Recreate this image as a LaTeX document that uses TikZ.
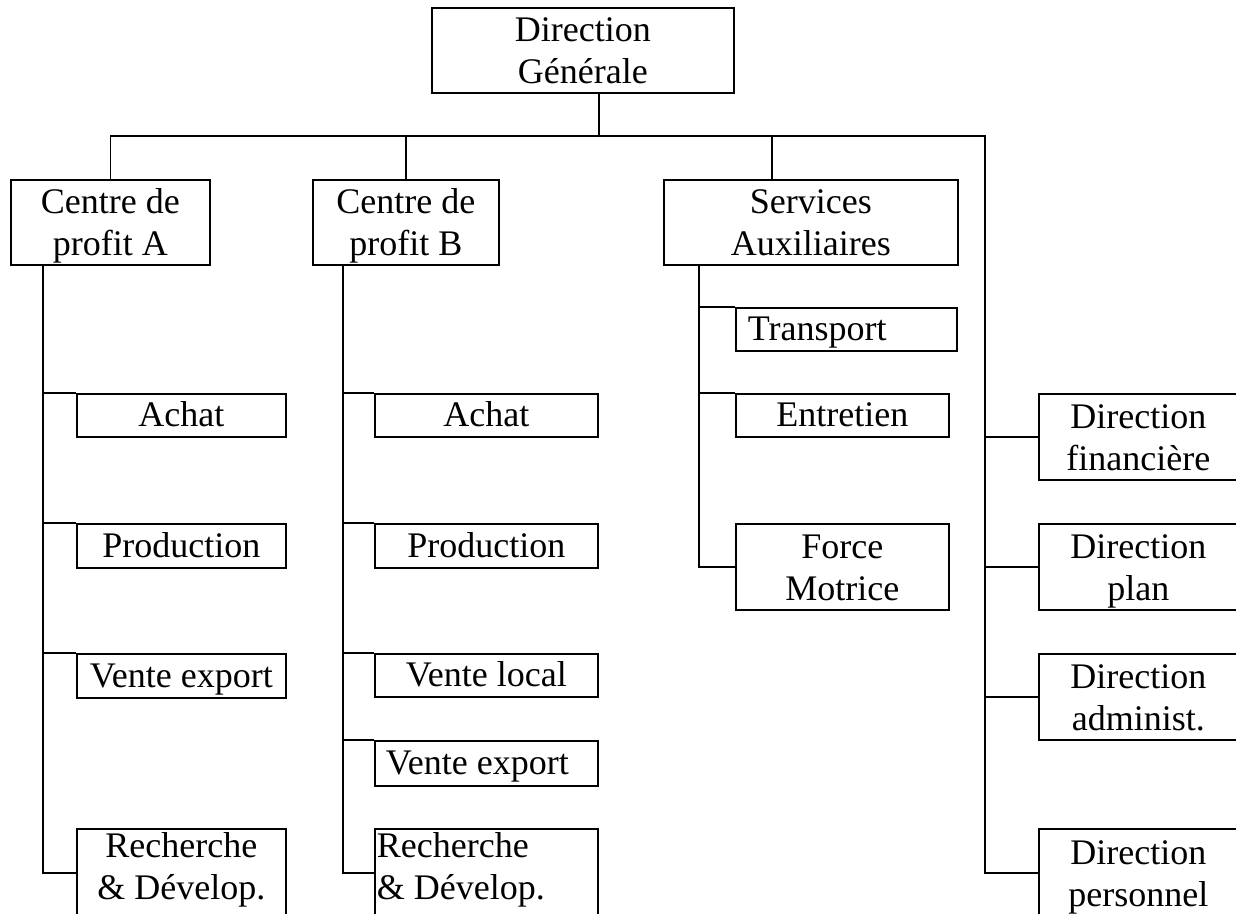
\documentclass[tikz,border=0pt]{standalone}
\usepackage{fontspec}
\setmainfont{Liberation Serif}
\begin{document}
\begin{tikzpicture}[x=0.5pt,y=-0.5pt,line width=0.9pt,line join=miter,
  box/.style={draw,inner sep=0pt,anchor=north west,align=flush center,
    font=\fontsize{18}{21}\selectfont},
  leftbox/.style={align=flush left,inner xsep=#1},
  one/.style={text height=16.5pt,text depth=5pt},
  two/.style={text height=17pt,text depth=25.5pt},
  tall/.style={text height=14.5pt,text depth=29.5pt}]
\useasboundingbox (0,0) rectangle (1236,914);

% top management
\node[box,two,text width=151pt,minimum height=42.5pt] (dg) at (431,7) {Direction\\Générale};

% second level
\node[box,two,text width=99.5pt,minimum height=42.5pt] (cpA) at (10,179) {Centre de\\profit A};
\node[box,two,text width=93pt,minimum height=42.5pt] (cpB) at (312,179) {Centre de\\profit B};
\node[box,two,text width=147pt,minimum height=42.5pt] (sa) at (663,179) {Services\\Auxiliaires};

% profit centre A
\node[box,one,text width=104.5pt,minimum height=21.5pt] (achA) at (76,393) {Achat};
\node[box,one,text width=104.5pt,minimum height=22pt] (prodA) at (76,523) {Production};
\node[box,one,text width=104.5pt,minimum height=22pt] (veA) at (76,653) {Vente export};
\node[box,tall,text width=104.5pt,minimum height=44pt] (rdA) at (76,828) {Recherche\\\& Dévelop.};

% profit centre B
\node[box,one,text width=111.5pt,minimum height=21.5pt] (achB) at (374,393) {Achat};
\node[box,one,text width=111.5pt,minimum height=22pt] (prodB) at (374,523) {Production};
\node[box,one,text width=111.5pt,minimum height=21.5pt] (vlB) at (374,653) {Vente local};
\node[box,one,leftbox=5.5pt,text width=100.5pt,minimum height=22.5pt] (veB) at (374,740) {Vente export};
\node[box,tall,leftbox=1pt,text width=109.5pt,minimum height=44pt] (rdB) at (374,828) {Recherche\\\& Dévelop.};

% auxiliary services
\node[box,one,leftbox=6pt,text width=98.5pt,minimum height=21.5pt] (tr) at (735,307) {Transport};
\node[box,one,text width=106.5pt,minimum height=21.5pt] (en) at (735,393) {Entretien};
\node[box,two,text width=106.5pt,minimum height=43pt] (fm) at (735,523) {Force\\Motrice};

% functional directions
\node[box,two,text width=99.5pt,minimum height=43pt] (dfi) at (1038,393) {Direction\\financière};
\node[box,two,text width=99.5pt,minimum height=43pt] (dpl) at (1038,523) {Direction\\plan};
\node[box,two,text width=99.5pt,minimum height=43pt] (dad) at (1038,653) {Direction\\administ.};
\node[box,two,text width=99.5pt,minimum height=44pt] (dpe) at (1038,828) {Direction\\personnel};

% spine positions
\coordinate (jDG) at (599,136);
\coordinate (dSA) at (772,136);
\coordinate (sR) at (985,136);
\coordinate (sA) at (43,0);
\coordinate (sB) at (343,0);
\coordinate (sS) at (699,0);

% stem, bus and right-hand spine
\draw (jDG |- dg.south) -- (jDG);
\draw (cpA.north) -- (cpA.north |- sR) -- (sR) -- (sR |- dpe.west) -- (dpe.west);
\draw (cpB.north |- sR) -- (cpB.north);
\draw (dSA) -- (dSA |- sa.north);
\draw (sR |- dfi.west) -- (dfi.west);
\draw (sR |- dpl.west) -- (dpl.west);
\draw (sR |- dad.west) -- (dad.west);

% spine of profit centre A
\draw (sA |- cpA.south) -- (sA |- rdA.west) -- (rdA.west);
\draw (sA |- achA.north west) -- (achA.north west);
\draw (sA |- prodA.north west) -- (prodA.north west);
\draw (sA |- veA.north west) -- (veA.north west);

% spine of profit centre B
\draw (sB |- cpB.south) -- (sB |- rdB.west) -- (rdB.west);
\draw (sB |- achB.north west) -- (achB.north west);
\draw (sB |- prodB.north west) -- (prodB.north west);
\draw (sB |- vlB.north west) -- (vlB.north west);
\draw (sB |- veB.north west) -- (veB.north west);

% spine of auxiliary services
\draw (sS |- sa.south) -- (sS |- fm.west) -- (fm.west);
\draw (sS |- tr.north west) -- (tr.north west);
\draw (sS |- en.north west) -- (en.north west);
\end{tikzpicture}
\end{document}
